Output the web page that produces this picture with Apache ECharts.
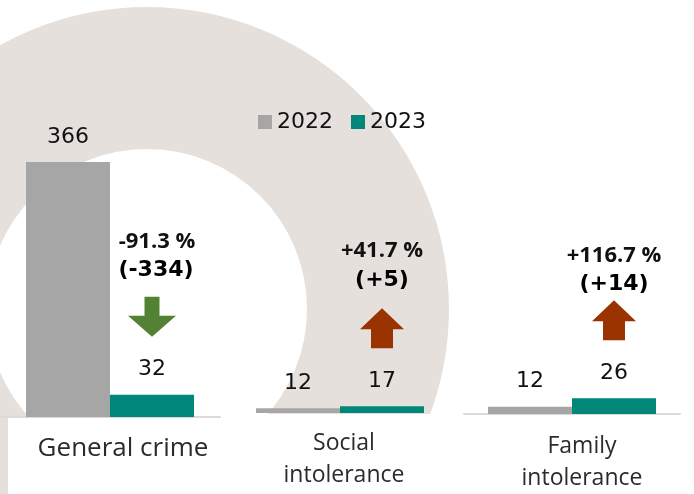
<!DOCTYPE html>
<html>
<head>
<meta charset="utf-8">
<script src="https://cdn.jsdelivr.net/npm/echarts@6/dist/echarts.min.js"></script>
<style>
html,body{margin:0;padding:0;background:#fff;}
#main{width:694px;height:494px;}
</style>
</head>
<body>
<div id="main"></div>
<script>
// ---- data ----
const categories = ['General crime', 'Social\nintolerance', 'Family\nintolerance'];
const years = ['2022', '2023'];
const values2022 = [366, 12, 12];
const values2023 = [32, 17, 26];
const changePct = ['-91.3 %', '+41.7 %', '+116.7 %'];
const changeAbs = ['(-334)', '(+5)', '(+14)'];

// ---- layout / style ----
const C2022 = '#A6A6A6', C2023 = '#00877A', RING = '#E6E0DD';
const grids = [
  {left: -4, width: 224, top: 162, height: 255},
  {left: 232, width: 216, top: 313, height: 100},
  {left: 464, width: 216, top: 317, height: 100}
];
const yMax = [366, 250, 161];
const labelFont = [26, 23, 23];
const labelPad = [26, 8, 20];
const labelMargin = [16, 14, 16];
const showAxisLine = [true, false, true];
const absGap = [26, 28, 16];

const chart = echarts.init(document.getElementById('main'), null, {renderer: 'canvas'});

const xAxes = [], yAxes = [], series = [];
categories.forEach((cat, i) => {
  xAxes.push({
    type: 'category', gridIndex: i, data: [cat],
    axisTick: {show: false},
    axisLine: {show: showAxisLine[i], lineStyle: {color: '#DADADA', width: 2}},
    axisLabel: {
      interval: 0, fontSize: labelFont[i], lineHeight: 32, color: '#2B2B2B',
      fontFamily: '"Open Sans", sans-serif', margin: labelMargin[i],
      padding: [0, 0, 0, labelPad[i]]
    }
  });
  yAxes.push({type: 'value', gridIndex: i, min: 0, max: yMax[i], show: false, splitLine: {show: false}});
  [values2022, values2023].forEach((vals, k) => {
    series.push({
      name: years[k], type: 'bar', xAxisIndex: i, yAxisIndex: i,
      data: [vals[i]], barWidth: 84, barGap: '0%',
      itemStyle: {color: k === 0 ? C2022 : C2023},
      label: {
        show: true, position: 'top', distance: 14, fontSize: 22, lineHeight: 22,
        color: '#111', fontFamily: '"DejaVu Sans", sans-serif'
      },
      emphasis: {disabled: true},
      animation: false
    });
  });
});

const baseGraphic = [
  {type: 'ring', z: -10, shape: {cx: 147, cy: 309, r: 302, r0: 160}, style: {fill: RING}, silent: true},
  {type: 'rect', z: -9, shape: {x: 8, y: 418, width: 700, height: 80}, style: {fill: '#fff'}, silent: true},
  {type: 'rect', z: -9, shape: {x: 222, y: 414, width: 240, height: 5}, style: {fill: '#fff'}, silent: true}
];

chart.setOption({
  animation: false,
  legend: {
    data: years, left: 253, top: 106, icon: 'rect', itemWidth: 14, itemHeight: 14, itemGap: 18,
    selectedMode: false,
    textStyle: {fontSize: 22, color: '#111', fontFamily: '"DejaVu Sans", sans-serif'}
  },
  color: [C2022, C2023],
  grid: grids,
  xAxis: xAxes,
  yAxis: yAxes,
  series: series,
  graphic: baseGraphic
});

// annotations positioned from the teal bars' layout
const ann = [];
categories.forEach((cat, i) => {
  const sIdx = i * 2 + 1;
  let cx, top;
  try {
    const l = chart.getModel().getSeriesByIndex(sIdx).getData().getItemLayout(0);
    cx = l.x + l.width / 2;
    top = Math.min(l.y, l.y + l.height);
  } catch (e) {
    const p = chart.convertToPixel({seriesIndex: sIdx}, [0, values2023[i]]);
    cx = p[0] + 42; top = p[1];
  }
  const down = values2023[i] < values2022[i];
  const bottom = top - 58;
  const aTop = bottom - 40;
  let pts, fill;
  if (down) {
    const sh = 7.5, hh = 24, head = 21;
    pts = [[cx - sh, aTop], [cx + sh, aTop], [cx + sh, bottom - head], [cx + hh, bottom - head],
           [cx, bottom], [cx - hh, bottom - head], [cx - sh, bottom - head]];
    fill = '#548235';
  } else {
    const sh = 11, hh = 22, head = 21;
    pts = [[cx, aTop], [cx + hh, aTop + head], [cx + sh, aTop + head], [cx + sh, bottom],
           [cx - sh, bottom], [cx - sh, aTop + head], [cx - hh, aTop + head]];
    fill = '#993300';
  }
  ann.push({type: 'polygon', z: 10, shape: {points: pts}, style: {fill: fill}, silent: true});
  const absY = aTop - absGap[i];
  ann.push({type: 'text', z: 10, silent: true, style: {
    text: changeAbs[i], x: cx + (down ? 4 : 0), y: absY, align: 'center', verticalAlign: 'middle',
    font: 'bold 22px "DejaVu Sans", sans-serif', fill: '#000'}});
  ann.push({type: 'text', z: 10, silent: true, style: {
    text: changePct[i], x: cx + (down ? 5 : 0), y: absY - 29, align: 'center', verticalAlign: 'middle',
    font: 'bold 22px "Open Sans", sans-serif', fill: '#111'}});
});

chart.setOption({graphic: baseGraphic.concat(ann)});
</script>
</body>
</html>
